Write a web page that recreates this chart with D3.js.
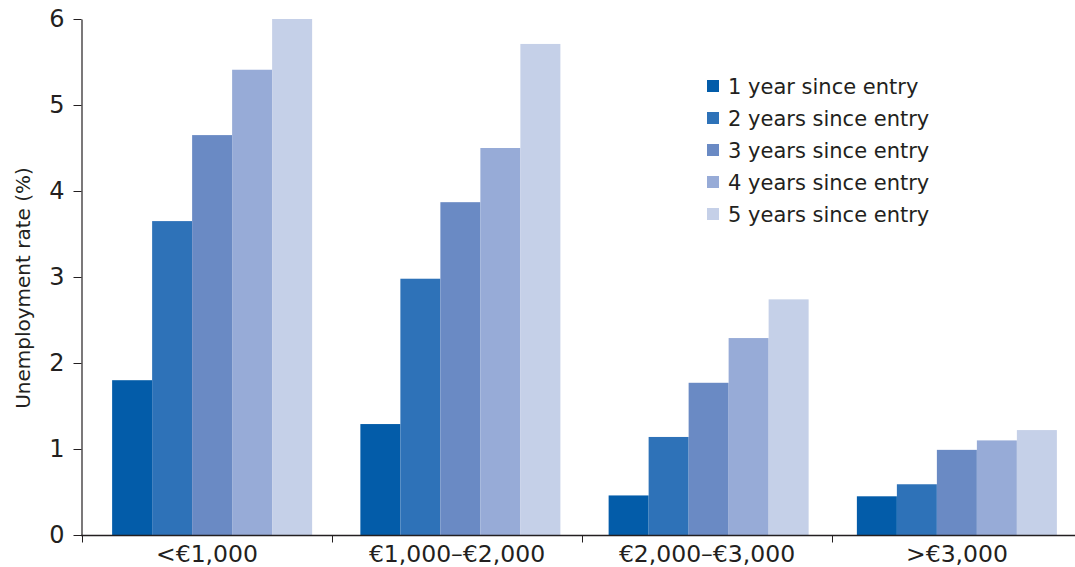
<!DOCTYPE html>
<html><head><meta charset="utf-8">
<script src="https://cdn.jsdelivr.net/npm/d3@7"></script>
<style>body{margin:0;background:#fff}svg{display:block}text{font-family:"DejaVu Sans",Arial,sans-serif;fill:#231f20}</style>
</head><body><svg id="c" width="1075" height="567"></svg>
<script>
const categories = ["<€1,000", "€1,000–€2,000", "€2,000–€3,000", ">€3,000"];
const seriesNames = ["1 year since entry", "2 years since entry", "3 years since entry", "4 years since entry", "5 years since entry"];
const year1 = [1.80, 1.29, 0.46, 0.45];
const year2 = [3.65, 2.98, 1.14, 0.59];
const year3 = [4.65, 3.87, 1.77, 0.99];
const year4 = [5.41, 4.50, 2.29, 1.10];
const year5 = [6.00, 5.71, 2.74, 1.22];
const yTicks = [0, 1, 2, 3, 4, 5, 6];
const colors = ["#035ca9", "#2e72b8", "#6a8ac4", "#97abd7", "#c5d0e8"];
const series = [year1, year2, year3, year4, year5];

const svg = d3.select("#c");
// axis scale (category boundaries) and bar placement scale
const x0 = d3.scaleBand().domain(categories).range([82, 1082]);
const xb = d3.scaleBand().domain(categories).range([88, 1081]);
const x1 = d3.scaleBand().domain(d3.range(5)).range([0, 200]);
const y = d3.scaleLinear().domain([0, 6]).range([535, 19]);
const groupOffset = (xb.bandwidth() - 200) / 2;

const g = svg.append("g");
categories.forEach((c, ci) => {
  series.forEach((s, si) => {
    g.append("rect")
      .attr("x", xb(c) + groupOffset + x1(si))
      .attr("width", x1.bandwidth())
      .attr("y", y(s[ci]))
      .attr("height", y(0) - y(s[ci]))
      .attr("fill", colors[si]);
  });
});

// y axis
const ya = svg.append("g").attr("transform", "translate(81.5,0)")
  .call(d3.axisLeft(y).tickValues(yTicks).tickFormat(d3.format("d")).tickSize(8).tickPadding(9).tickSizeOuter(0));
ya.select(".domain").attr("stroke", "#231f20").attr("stroke-width", 1.2);
ya.selectAll(".tick line").attr("stroke", "#231f20");
ya.selectAll(".tick text").style("font-size", "24px").attr("fill", "#231f20").attr("font-family", null);

// x axis
const xa = svg.append("g").attr("transform", "translate(0,535.5)");
xa.append("line").attr("x1", 81).attr("x2", 1075).attr("stroke", "#231f20").attr("stroke-width", 1.5);
categories.forEach(c => {
  xa.append("line").attr("x1", x0(c) + 0.5).attr("x2", x0(c) + 0.5).attr("y1", 0).attr("y2", 7).attr("stroke", "#231f20");
  xa.append("text").attr("x", x0(c) + x0.bandwidth() / 2).attr("y", 26)
    .attr("text-anchor", "middle").style("font-size", "23.5px").text(c);
});

// y title
svg.append("text").attr("transform", "translate(30,288) rotate(-90)")
  .attr("text-anchor", "middle").style("font-size", "20px").text("Unemployment rate (%)");

// legend
const lg = svg.append("g").attr("transform", "translate(707,86)");
seriesNames.forEach((n, i) => {
  const row = lg.append("g").attr("transform", `translate(0,${i * 32})`);
  row.append("rect").attr("x", 0).attr("y", -6).attr("width", 12).attr("height", 12).attr("fill", colors[i]);
  row.append("text").attr("x", 21).attr("y", 8).style("font-size", "21px").text(n);
});
</script></body></html>
